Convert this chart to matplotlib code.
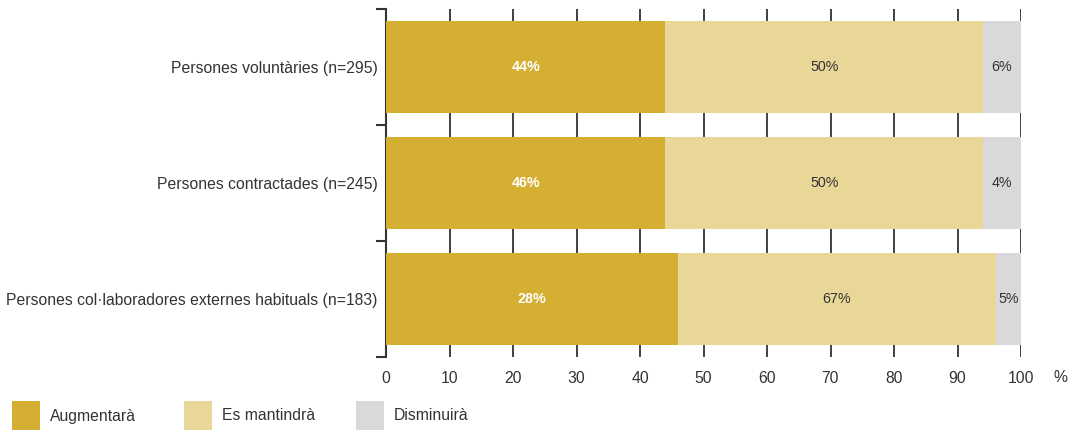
import matplotlib
matplotlib.use("Agg")
import matplotlib.pyplot as plt
from matplotlib.patches import Rectangle
import numpy as np

plt.rcParams['font.family'] = ['Liberation Sans', 'DejaVu Sans']

categories = ["Persones voluntàries (n=295)",
              "Persones contractades (n=245)",
              "Persones col·laboradores externes habituals (n=183)"]
series_names = ["Augmentarà", "Es mantindrà", "Disminuirà"]
# segment lengths as drawn in the picture
augmentara = [44, 44, 46]
mantindra = [50, 50, 50]
disminuira = [6, 6, 4]
# labels as printed in the picture
label_aug = ["44%", "46%", "28%"]
label_man = ["50%", "50%", "67%"]
label_dis = ["6%", "4%", "5%"]
xticks = [0, 10, 20, 30, 40, 50, 60, 70, 80, 90, 100]

colors = ["#D4AF32", "#E9D798", "#D9D9DB"]
text_dark = "#333333"

fig = plt.figure(figsize=(10.69, 4.30), dpi=100)
ax = fig.add_axes([386/1069, 1-357/430, (1021-386)/1069, (357-9)/430])

y = np.arange(len(categories))
seg_vals = [augmentara, mantindra, disminuira]
seg_labels = [label_aug, label_man, label_dis]
left = np.zeros(len(categories))
for i, (vals, labs) in enumerate(zip(seg_vals, seg_labels)):
    vals = np.array(vals, dtype=float)
    ax.barh(y, vals, left=left, height=0.79, color=colors[i], zorder=3)
    for j in range(len(categories)):
        cx = left[j] + vals[j] / 2
        if i == 0:
            ax.text(cx, y[j], labs[j], ha="center", va="center", color="white",
                    fontsize=10.3, fontweight="bold", zorder=4)
        else:
            ax.text(cx, y[j], labs[j], ha="center", va="center", color=text_dark,
                    fontsize=10.3, zorder=4)
    left += vals

ax.set_xlim(0, 100)
ax.set_ylim(len(categories) - 0.5, -0.5)

ax.set_xticks(xticks)
ax.set_xticklabels([str(t) for t in xticks], fontsize=11.3, color=text_dark)
ax.tick_params(axis="x", length=0, pad=10)
ax.grid(axis="x", color="#333333", linewidth=1.3, zorder=0)
ax.set_axisbelow(True)

ax.set_yticks(y)
ax.set_yticklabels(categories, fontsize=11.3, color=text_dark)
ax.tick_params(axis="y", which="major", length=0, pad=6)
ax.set_yticks(np.arange(-0.5, len(categories) + 0.5, 1), minor=True)
ax.tick_params(axis="y", which="minor", length=7, width=1.5, color="#333333", direction="out")

for s in ["top", "right", "bottom"]:
    ax.spines[s].set_visible(False)
ax.spines["left"].set_color("#333333")
ax.spines["left"].set_linewidth(1.5)

fig.text(1060/1069, 1-378/430, "%", ha="center", va="center", fontsize=11.3, color=text_dark)

# legend
leg_x = [12, 184, 356]
for k, name in enumerate(series_names):
    x0 = leg_x[k] / 1069
    fig.patches.append(Rectangle((x0, 0), 28/1069, 29/430, transform=fig.transFigure,
                                 facecolor=colors[k], edgecolor="none"))
    fig.text(x0 + 38/1069, 1-416/430, name, ha="left", va="center", fontsize=11.3, color=text_dark)

fig.savefig("out.png", dpi=100)
